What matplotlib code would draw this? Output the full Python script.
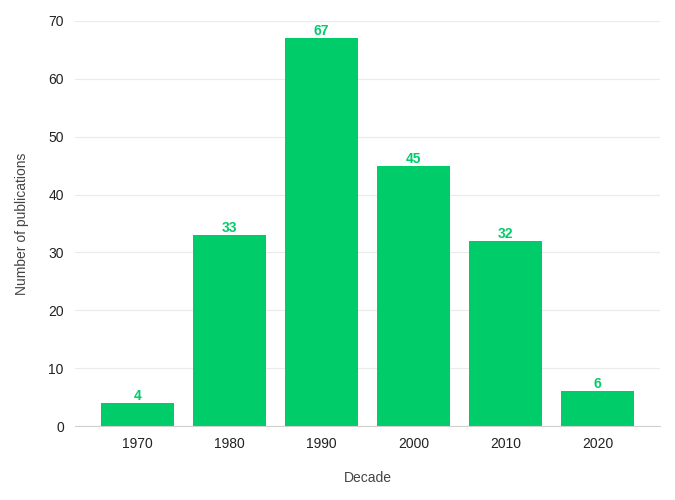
import numpy as np
import matplotlib.pyplot as plt

plt.rcParams['font.family'] = ['Liberation Sans', 'DejaVu Sans']

decades = ['1970', '1980', '1990', '2000', '2010', '2020']
counts = [4, 33, 67, 45, 32, 6]

green = '#00cc6a'

fig = plt.figure(figsize=(6.75, 5), dpi=100)
ax = fig.add_axes([0.111, 0.148, 0.867, 0.81])

x = np.arange(len(decades))
bars = ax.bar(x, counts, width=0.8, color=green, zorder=2)

# value labels on top of bars
for xi, c in zip(x, counts):
    ax.text(xi, c, str(c), ha='center', va='bottom',
            color=green, fontsize=10, fontweight='bold')

ax.set_xticks(x)
ax.set_xticklabels(decades)
ax.set_xlim(-0.68, 5.68)
ax.set_ylim(0, 70)
ax.set_yticks(range(0, 71, 10))
ax.grid(axis='y', color='#ebebeb', linewidth=0.8, zorder=0)

for s in ['top', 'right', 'left']:
    ax.spines[s].set_visible(False)
ax.spines['bottom'].set_color('#d0d0d0')

ax.tick_params(axis='both', length=0, labelsize=10, colors='#222222')
ax.tick_params(axis='x', pad=8)
ax.tick_params(axis='y', pad=8)

ax.set_xlabel('Decade', fontsize=10, color='#444444', labelpad=14)
ax.set_ylabel('Number of publications', fontsize=10, color='#444444', labelpad=14)

fig.savefig('out.png', dpi=100)
